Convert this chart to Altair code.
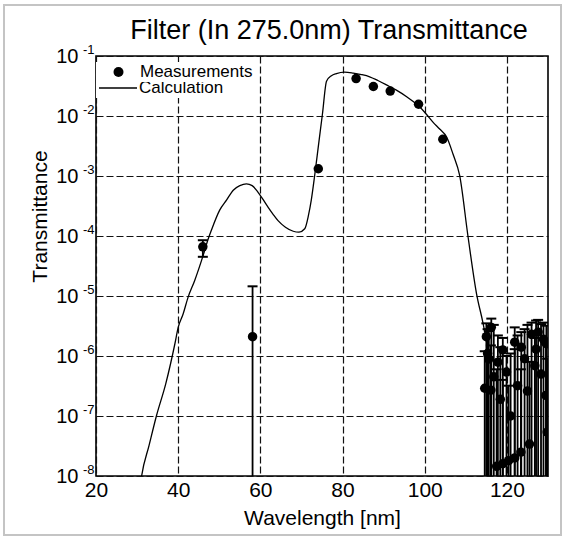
import altair as alt
import pandas as pd

FONT = "Liberation Sans"

# Calculated filter transmittance (wavelength in nm)
calc_nm = [30.5, 31.1, 32.9, 34.7, 37.0, 39.2, 40.0, 41.2, 42.4, 44.0, 46.1, 47.3,
           48.1, 50.1, 51.8, 53.4, 55.0, 56.6, 58.0, 59.4, 60.6, 61.9, 63.1, 64.3,
           66.1, 68.0, 69.4, 70.8, 71.7, 72.4, 73.2, 74.2, 75.1, 76.1, 77.3, 78.5,
           80.5, 82.6, 84.6, 86.6, 88.6, 90.7, 93.1, 95.6, 97.2, 98.8, 100.4, 102.0,
           103.7, 105.3, 106.9, 108.5, 110.5, 112.6, 114.2, 115.3]
calc_t = [5.0e-9, 1.0e-8, 3.2e-8, 1.0e-7, 3.5e-7, 1.6e-6, 3.0e-6, 5.0e-6, 9.5e-6,
          1.8e-5, 4.8e-5, 8.9e-5, 1.26e-4, 2.7e-4, 4.0e-4, 5.8e-4, 6.9e-4, 7.4e-4,
          6.9e-4, 5.4e-4, 4.1e-4, 3.0e-4, 2.3e-4, 1.8e-4, 1.4e-4, 1.2e-4, 1.16e-4,
          1.32e-4, 2.2e-4, 4.0e-4, 1.0e-3, 3.5e-3, 1.07e-2, 3.8e-2, 4.7e-2, 5.1e-2,
          5.4e-2, 5.2e-2, 4.9e-2, 4.5e-2, 3.9e-2, 3.3e-2, 2.7e-2, 2.1e-2, 1.74e-2,
          1.41e-2, 1.07e-2, 7.9e-3, 6.0e-3, 4.5e-3, 2.3e-3, 1.02e-3, 1.02e-4,
          1.1e-5, 3.5e-6, 1.4e-6]

# Measured transmittance with lower / upper error limits
meas_nm = [46.0, 58.1, 74.1, 83.3, 87.5, 91.6, 98.5, 104.4,
           114.6, 115.0, 115.3, 115.6, 116.1, 116.2, 116.8, 117.5, 117.8, 118.4,
           119.0, 119.0, 119.9, 120.4, 120.9, 121.9, 121.9, 122.6, 123.4, 123.5,
           124.3, 125.0, 125.5, 126.0, 126.8, 127.1, 127.6, 128.3, 128.9, 129.5,
           129.6, 129.8]
meas_t = [6.6e-5, 2.1e-6, 1.32e-3, 4.2e-2, 3.1e-2, 2.6e-2, 1.57e-2, 4.1e-3,
          2.9e-7, 2.1e-6, 1.1e-6, 8.9e-7, 2.7e-7, 3.0e-6, 4.5e-7, 1.45e-8, 7.9e-7,
          1.9e-7, 1.26e-6, 1.6e-8, 5.4e-7, 1.8e-8, 1.0e-7, 1.7e-6, 2.0e-8, 3.2e-7,
          2.5e-8, 1.4e-6, 9.0e-7, 2.6e-7, 3.4e-8, 2.3e-6, 6.9e-7, 1.3e-6, 2.5e-6,
          5.0e-7, 1.9e-6, 2.2e-7, 1.6e-6, 5.4e-8]
meas_lo = [4.5e-5, 1e-9, 1.32e-3, 4.2e-2, 3.1e-2, 2.6e-2, 1.57e-2, 4.1e-3,
           1e-9, 1e-9, 1e-9, 1e-9, 1e-9, 1e-9, 1e-9, 1e-9, 1e-9, 1e-9,
           1e-9, 1e-9, 1e-9, 1e-9, 1e-9, 1e-9, 1e-9, 1e-9, 1e-9, 1e-9,
           1e-9, 1e-9, 1e-9, 1e-9, 1e-9, 1e-9, 1e-9, 1e-9, 1e-9, 1e-9,
           1e-9, 1e-9]
meas_hi = [8.5e-5, 1.45e-5, 1.32e-3, 4.2e-2, 3.1e-2, 2.6e-2, 1.57e-2, 4.1e-3,
           1.2e-6, 3.5e-6, 2.8e-6, 2.6e-6, 1.5e-6, 4.2e-6, 3.3e-6, 6.0e-7, 2.2e-6,
           1.4e-6, 2.0e-6, 4.0e-7, 1.0e-6, 3.2e-7, 1.1e-6, 3.0e-6, 1.3e-6, 2.2e-6,
           6.0e-7, 2.5e-6, 2.8e-6, 3.3e-6, 8.0e-7, 3.6e-6, 2.0e-6, 3.9e-6, 4.0e-6,
           3.4e-6, 3.6e-6, 1.6e-6, 3.2e-6, 9.0e-7]

x_ticks = [20, 40, 60, 80, 100, 120]
y_ticks = [1e-1, 1e-2, 1e-3, 1e-4, 1e-5, 1e-6, 1e-7, 1e-8]

calc = pd.DataFrame({"nm": calc_nm, "t": calc_t})
calc["series"] = "Calculation"
meas = pd.DataFrame({"nm": meas_nm, "t": meas_t, "lo": meas_lo, "hi": meas_hi})
meas["series"] = "Measurements"
bars = meas[meas["hi"] > meas["lo"]]

x_scale = alt.Scale(domain=[20, 130], nice=False, zero=False)
y_scale = alt.Scale(type="log", domain=[1e-8, 1e-1], nice=False)

x_axis = alt.Axis(
    values=x_ticks, labelFontSize=21, labelPadding=3, labelFlush=False,
    ticks=False, domain=False, grid=True, gridDash=[7, 3], gridColor="#111",
    gridWidth=1.2, title="Wavelength [nm]", titleFontSize=21,
    titleFontWeight="normal", titlePadding=7,
)
# mantissa "10" labels, grid and axis title
y_axis_base = alt.Axis(
    orient="left", values=y_ticks, labelExpr="'10'", labelFontSize=20,
    labelPadding=18, labelFlush=False, ticks=False, domain=False, grid=True,
    gridDash=[7, 3], gridColor="#111", gridWidth=1.2, title="Transmittance",
    titleFontSize=21, titleFontWeight="normal", titleAngle=270,
    titleBaseline="alphabetic", titleAlign="center", titleX=-50, titleY=160,
)
# raised exponent labels
y_axis_exp = alt.Axis(
    orient="left", values=y_ticks,
    labelExpr="'-' + round(-log(datum.value) / LN10)", labelFontSize=13,
    labelPadding=2, labelOffset=-7, labelFlush=False, labelAlign="right",
    ticks=False, domain=False, grid=False, title=None,
)

x_enc = alt.X("nm:Q", scale=x_scale, axis=x_axis)

legend_common = dict(
    title=None, orient="none", legendX=0, padding=2, fillColor="white",
    clipHeight=16, labelFontSize=17, labelFont=FONT, labelColor="black",
)
legend_meas = alt.Legend(
    legendY=6, symbolSize=100, symbolOffset=12, labelOffset=13,
    symbolFillColor="black", **legend_common,
)
legend_calc = alt.Legend(
    legendY=22, symbolType="stroke", symbolSize=1444, symbolStrokeWidth=1.3,
    symbolStrokeColor="black", symbolOffset=0, labelOffset=1, **legend_common,
)

line = alt.Chart(calc).mark_line(
    strokeWidth=1.3, interpolate="monotone", clip=True
).encode(
    x=x_enc,
    y=alt.Y("t:Q", scale=y_scale, axis=y_axis_base),
    color=alt.Color("series:N", scale=alt.Scale(domain=["Calculation"], range=["black"]), legend=legend_calc),
)

rules = alt.Chart(bars).mark_rule(color="black", strokeWidth=1.8, clip=True).encode(
    x="nm:Q", y=alt.Y("lo:Q", scale=y_scale, axis=None), y2="hi:Q"
)
caps_hi = alt.Chart(bars).mark_tick(
    orient="horizontal", size=10, thickness=2, color="black", opacity=1, clip=True
).encode(x="nm:Q", y=alt.Y("hi:Q", scale=y_scale, axis=None))
caps_lo = alt.Chart(bars).mark_tick(
    orient="horizontal", size=10, thickness=2, color="black", opacity=1, clip=True
).encode(x="nm:Q", y=alt.Y("lo:Q", scale=y_scale, axis=None))

points = alt.Chart(meas).mark_point(
    filled=True, color="black", size=90, opacity=1, clip=True
).encode(
    x="nm:Q",
    y=alt.Y("t:Q", scale=y_scale, axis=y_axis_exp),
    shape=alt.Shape("series:N", scale=alt.Scale(domain=["Measurements"], range=["circle"]), legend=legend_meas),
)

# light figure border
frame = alt.Chart(pd.DataFrame({"k": [0]})).mark_rect(
    filled=False, color="#c4c4c4", strokeWidth=2, clip=False
).encode(x=alt.value(-92), x2=alt.value(465), y=alt.value(-51), y2=alt.value(479))

chart = alt.layer(line, rules, caps_hi, caps_lo, points, frame).resolve_axis(
    y="independent"
).properties(
    width=452, height=420,
    autosize=alt.AutoSizeParams(type="none"),
    padding={"left": 96, "top": 56, "right": 16, "bottom": 63},
    title=alt.TitleParams(
        text="Filter (In 275.0nm) Transmittance", fontSize=27, font=FONT,
        fontWeight="normal", color="black", anchor="middle", dx=7, offset=0,
        dy=62, baseline="alphabetic",
    ),
    background="white",
).configure_view(stroke="black", strokeWidth=1.6).configure_axis(
    labelFont=FONT, titleFont=FONT, labelColor="black", titleColor="black"
)

chart.save("out.html", embed_options={"renderer": "svg", "actions": False})
